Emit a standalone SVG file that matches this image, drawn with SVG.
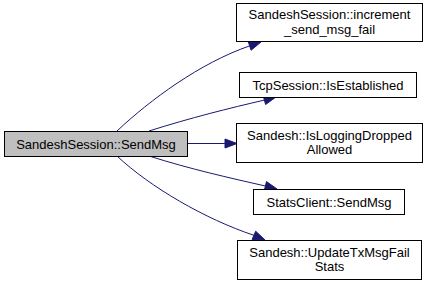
<svg xmlns="http://www.w3.org/2000/svg" width="428" height="287" viewBox="0 0 428 287">
  <style>
    .node rect { fill: #ffffff; stroke: #000000; stroke-width: 1; }
    .node.root rect { fill: #bfbfbf; stroke: #000000; }
    .node text { font-family: "Liberation Sans", Arial, sans-serif; font-size: 13px; fill: #000000; text-anchor: middle; }
    .edge path { fill: none; stroke: #191970; stroke-width: 1; }
    .edge polygon { fill: #191970; stroke: #191970; stroke-width: 1; }
  </style>
  <rect width="428" height="287" fill="#ffffff"/>

  <!-- call edges from SendMsg to each callee -->
  <g id="edges">
    <g class="edge">
      <path d="M117,131 C150,100 200,63 249.6,45.9"/>
      <polygon points="251.1,50.2 261,42 248.2,41.6"/>
    </g>
    <g class="edge">
      <path d="M149,131 C190,118 230,108 264.4,100.1"/>
      <polygon points="265.6,104.5 276,97 263.2,95.8"/>
    </g>
    <g class="edge">
      <path d="M188,143.5 L225,143.5"/>
      <polygon points="225,148 237,143.5 225,139"/>
    </g>
    <g class="edge">
      <path d="M149,156 C190,169 230,178 265.4,186"/>
      <polygon points="264.3,190.4 277,189 266.5,181.6"/>
    </g>
    <g class="edge">
      <path d="M117,156 C150,187 205,219 253.9,235.3"/>
      <polygon points="252.1,239.4 265,240 255.7,231.2"/>
    </g>
  </g>

  <g id="node-sendmsg" class="node root">
    <rect x="4.5" y="131.5" width="183" height="25"/>
    <text x="96" y="148.5">SandeshSession::SendMsg</text>
  </g>

  <g id="node-increment" class="node">
    <rect x="236.5" y="3.5" width="186" height="38"/>
    <text x="329.5" y="19">SandeshSession::increment</text>
    <text x="329.5" y="33.5">_send_msg_fail</text>
  </g>

  <g id="node-isestablished" class="node">
    <rect x="239.5" y="72.5" width="177" height="25"/>
    <text x="328" y="89.5">TcpSession::IsEstablished</text>
  </g>

  <g id="node-isloggingdropped" class="node">
    <rect x="236.5" y="123.5" width="186" height="39"/>
    <text x="329.5" y="139.5">Sandesh::IsLoggingDropped</text>
    <text x="329.5" y="154">Allowed</text>
  </g>

  <g id="node-statsclient" class="node">
    <rect x="253.5" y="189.5" width="151" height="25"/>
    <text x="329" y="206.5">StatsClient::SendMsg</text>
  </g>

  <g id="node-updatetx" class="node">
    <rect x="237.5" y="240.5" width="184" height="39"/>
    <text x="329.5" y="256.5">Sandesh::UpdateTxMsgFail</text>
    <text x="329.5" y="271">Stats</text>
  </g>
</svg>
